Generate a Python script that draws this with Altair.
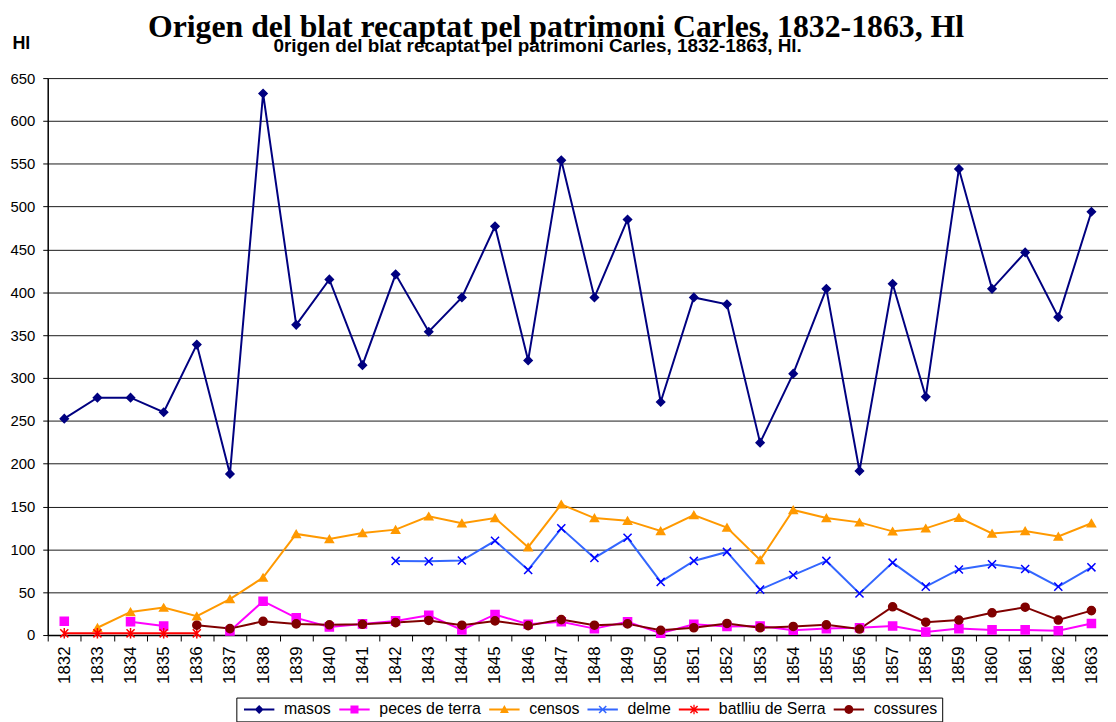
import altair as alt
import pandas as pd

# ---------------- data ----------------
years = ["1832", "1833", "1834", "1835", "1836", "1837", "1838", "1839", "1840", "1841",
         "1842", "1843", "1844", "1845", "1846", "1847", "1848", "1849", "1850", "1851",
         "1852", "1853", "1854", "1855", "1856", "1857", "1858", "1859", "1860", "1861",
         "1862", "1863"]

series_names = ["masos", "peces de terra", "censos", "delme", "batlliu de Serra", "cossures"]

masos = [252.5, 277, 277, 260, 339, 188, 632, 362, 415, 315,
         421, 354, 394, 477, 320.5, 554, 394, 485, 272, 394, 386,
         224.5, 305, 404, 191.5, 410, 278, 544, 404, 446.5, 371, 494]
peces = [16, None, 15.5, 10.5, None, 4.6, 39.5, 20, 9.5, 13,
         16.5, 23, 6, 24, 12.5, 15.5, 7.5, 15.5, 2, 12.5, 10,
         10.5, 5.5, 7.5, 8.5, 10.5, 3.5, 7.5, 6, 6, 5, 13.5]
censos = [None, 8.5, 27, 32, 22, 42, 67, 118, 112, 119,
          123, 138.5, 130.5, 136.5, 102.5, 152.5, 136.5, 133.5, 121.5, 140, 125.5,
          87.5, 146, 136.5, 131.5, 121, 124.5, 137, 118.5, 121.5, 115, 130.5]
delme = [None, None, None, None, None, None, None, None, None, None,
         86.5, 86, 87, 110, 76, 124.5, 90, 113.5, 62, 86.5, 97,
         53, 70, 86.5, 48.5, 84.5, 56.5, 76.5, 82.5, 77, 56.5, 79]
batlliu = [2, 2, 2, 2, 2, None, None, None, None, None,
           None, None, None, None, None, None, None, None, None, None, None,
           None, None, None, None, None, None, None, None, None, None, None]
cossures = [None, None, None, None, 11.5, 7.5, 16, 13, 12, 12.5,
            14.5, 17, 11.5, 16.5, 11, 18, 11.5, 13, 5.5, 8.5, 13.5,
            8.5, 10, 12, 7, 33, 15, 17.5, 26, 32.5, 17.5, 28.5]

y_ticks = [0, 50, 100, 150, 200, 250, 300, 350, 400, 450, 500, 550, 600, 650]

TITLE = "Origen del blat recaptat pel patrimoni Carles, 1832-1863, Hl"
SUBTITLE = "0rigen del blat recaptat pel patrimoni Carles, 1832-1863, Hl."
Y_TITLE = "Hl"

# ---------------- styles ----------------
line_colors = ["#000080", "#FF00FF", "#FF9900", "#3366FF", "#FF0000", "#800000"]
marker_colors = ["#000080", "#FF00FF", "#FF9900", "#0000FF", "#FF0000", "#800000"]
marker_fills = ["#000080", "#FF00FF", "#FF9900", "transparent", "transparent", "#800000"]

X_PATH = "M-1,-1L1,1M-1,1L1,-1"
AST_PATH = "M-1,-1L1,1M-1,1L1,-1M0,-1.3L0,1.3"
marker_shapes = ["diamond", "square", "triangle-up", X_PATH, AST_PATH, "circle"]

# legend symbols: a short line with the marker in its middle (filled paths)
LINE = "M-3.4,-0.22H3.4V0.22H-3.4Z"
XB = "M-0.92,-0.68L-0.68,-0.92L0.92,0.68L0.68,0.92ZM0.68,-0.92L0.92,-0.68L-0.68,0.92L-0.92,0.68Z"
legend_shapes = [
    LINE + "M0,-1L1,0L0,1L-1,0Z",
    LINE + "M-0.9,-0.9H0.9V0.9H-0.9Z",
    LINE + "M0,-1L1,0.8H-1Z",
    LINE + XB,
    LINE + XB + "M-0.14,-1.05H0.14V1.05H-0.14Z",
    LINE + "M-1,0A1,1 0 1,1 1,0A1,1 0 1,1 -1,0Z",
]

FONT = "Liberation Sans"

# ---------------- table ----------------
rows = []
for name, vals in zip(series_names, [masos, peces, censos, delme, batlliu, cossures]):
    seg = 0
    prev_none = True
    for yr, v in zip(years, vals):
        if v is None:
            prev_none = True
            continue
        if prev_none:
            seg += 1
            prev_none = False
        rows.append({"year": yr, "value": v, "series": name, "seg": f"{name}-{seg}",
                     "order": series_names.index(name)})
df = pd.DataFrame(rows)

base = alt.Chart(df)

x_scale = alt.Scale(type="band", domain=years, paddingInner=0, paddingOuter=0)
x_bottom = alt.X(
    "year:O", scale=x_scale, title=None,
    axis=alt.Axis(labelAngle=-90, tickBand="extent", tickSize=6, labelPadding=5,
                  labelFontSize=17, labelFont=FONT, labelColor="black", grid=False,
                  domainColor="black", domainWidth=1.5, tickColor="black", tickWidth=1),
)
x_none = alt.X("year:O", scale=x_scale, title=None, axis=None)
x_top = alt.X(
    "year:O", scale=x_scale,
    axis=alt.Axis(orient="top", labels=False, ticks=False, domain=False, grid=False,
                  title=SUBTITLE, titleX=493, titleY=-27, titleAngle=0, titleAlign="center",
                  titleBaseline="alphabetic", titleFontSize=19, titleFont=FONT,
                  titleFontWeight="bold", titleColor="black"),
)
y_enc = alt.Y(
    "value:Q", scale=alt.Scale(domain=[0, 650], nice=False, zero=True),
    axis=alt.Axis(values=y_ticks, title=Y_TITLE, titleAngle=0, titleX=-36, titleY=-30,
                  titleAlign="left", titleBaseline="alphabetic", titleFontSize=18,
                  titleFont=FONT, titleFontWeight="bold", titleColor="black",
                  labelFontSize=15, labelFont=FONT, labelColor="black", labelPadding=8,
                  tickSize=5, tickColor="black", domainColor="black", domainWidth=1.5,
                  grid=True, gridColor="#1a1a1a", gridWidth=1),
)

lines = base.mark_line(strokeWidth=2).encode(
    x=x_bottom,
    y=y_enc,
    color=alt.Color("series:N", scale=alt.Scale(domain=series_names, range=line_colors), legend=None),
    detail="seg:N",
    order="order:Q",
)

points = base.mark_point(filled=False, opacity=1, size=66, strokeWidth=1.5).encode(
    x=x_none,
    y=y_enc,
    color=alt.Color("series:N", scale=alt.Scale(domain=series_names, range=marker_colors), legend=None),
    fill=alt.Fill("series:N", scale=alt.Scale(domain=series_names, range=marker_fills), legend=None),
    shape=alt.Shape("series:N", scale=alt.Scale(domain=series_names, range=marker_shapes), legend=None),
)

leg = alt.Legend(title=None, orient="none", legendX=190, legendY=624, direction="horizontal",
                 columns=6, strokeColor="black", padding=4, fillColor="white",
                 labelFontSize=16, labelFont=FONT, labelColor="black",
                 symbolSize=81, symbolStrokeWidth=0, symbolOpacity=1,
                 symbolOffset=11, labelOffset=17, columnPadding=4)

legend_layer = base.transform_filter("false").mark_point(filled=True, opacity=1).encode(
    x=x_top,
    y=y_enc,
    color=alt.Color("series:N", scale=alt.Scale(domain=series_names, range=line_colors), legend=leg),
    shape=alt.Shape("series:N", scale=alt.Scale(domain=series_names, range=legend_shapes), legend=leg),
)

chart = alt.layer(lines, points, legend_layer).resolve_scale(
    color="independent", shape="independent"
).resolve_axis(x="independent").properties(
    width=1068,
    height=561,
    padding={"left": 40, "top": 68, "right": 0, "bottom": 85},
    autosize=alt.AutoSizeParams(type="none"),
    background="white",
    title=alt.TitleParams(text=TITLE, font="Liberation Serif", fontSize=32, fontWeight="bold",
                          color="black", anchor="middle", frame="group", dx=-22, offset=-10),
).configure_view(stroke=None)

chart.save("out.html", embed_options={"renderer": "svg", "actions": False})
